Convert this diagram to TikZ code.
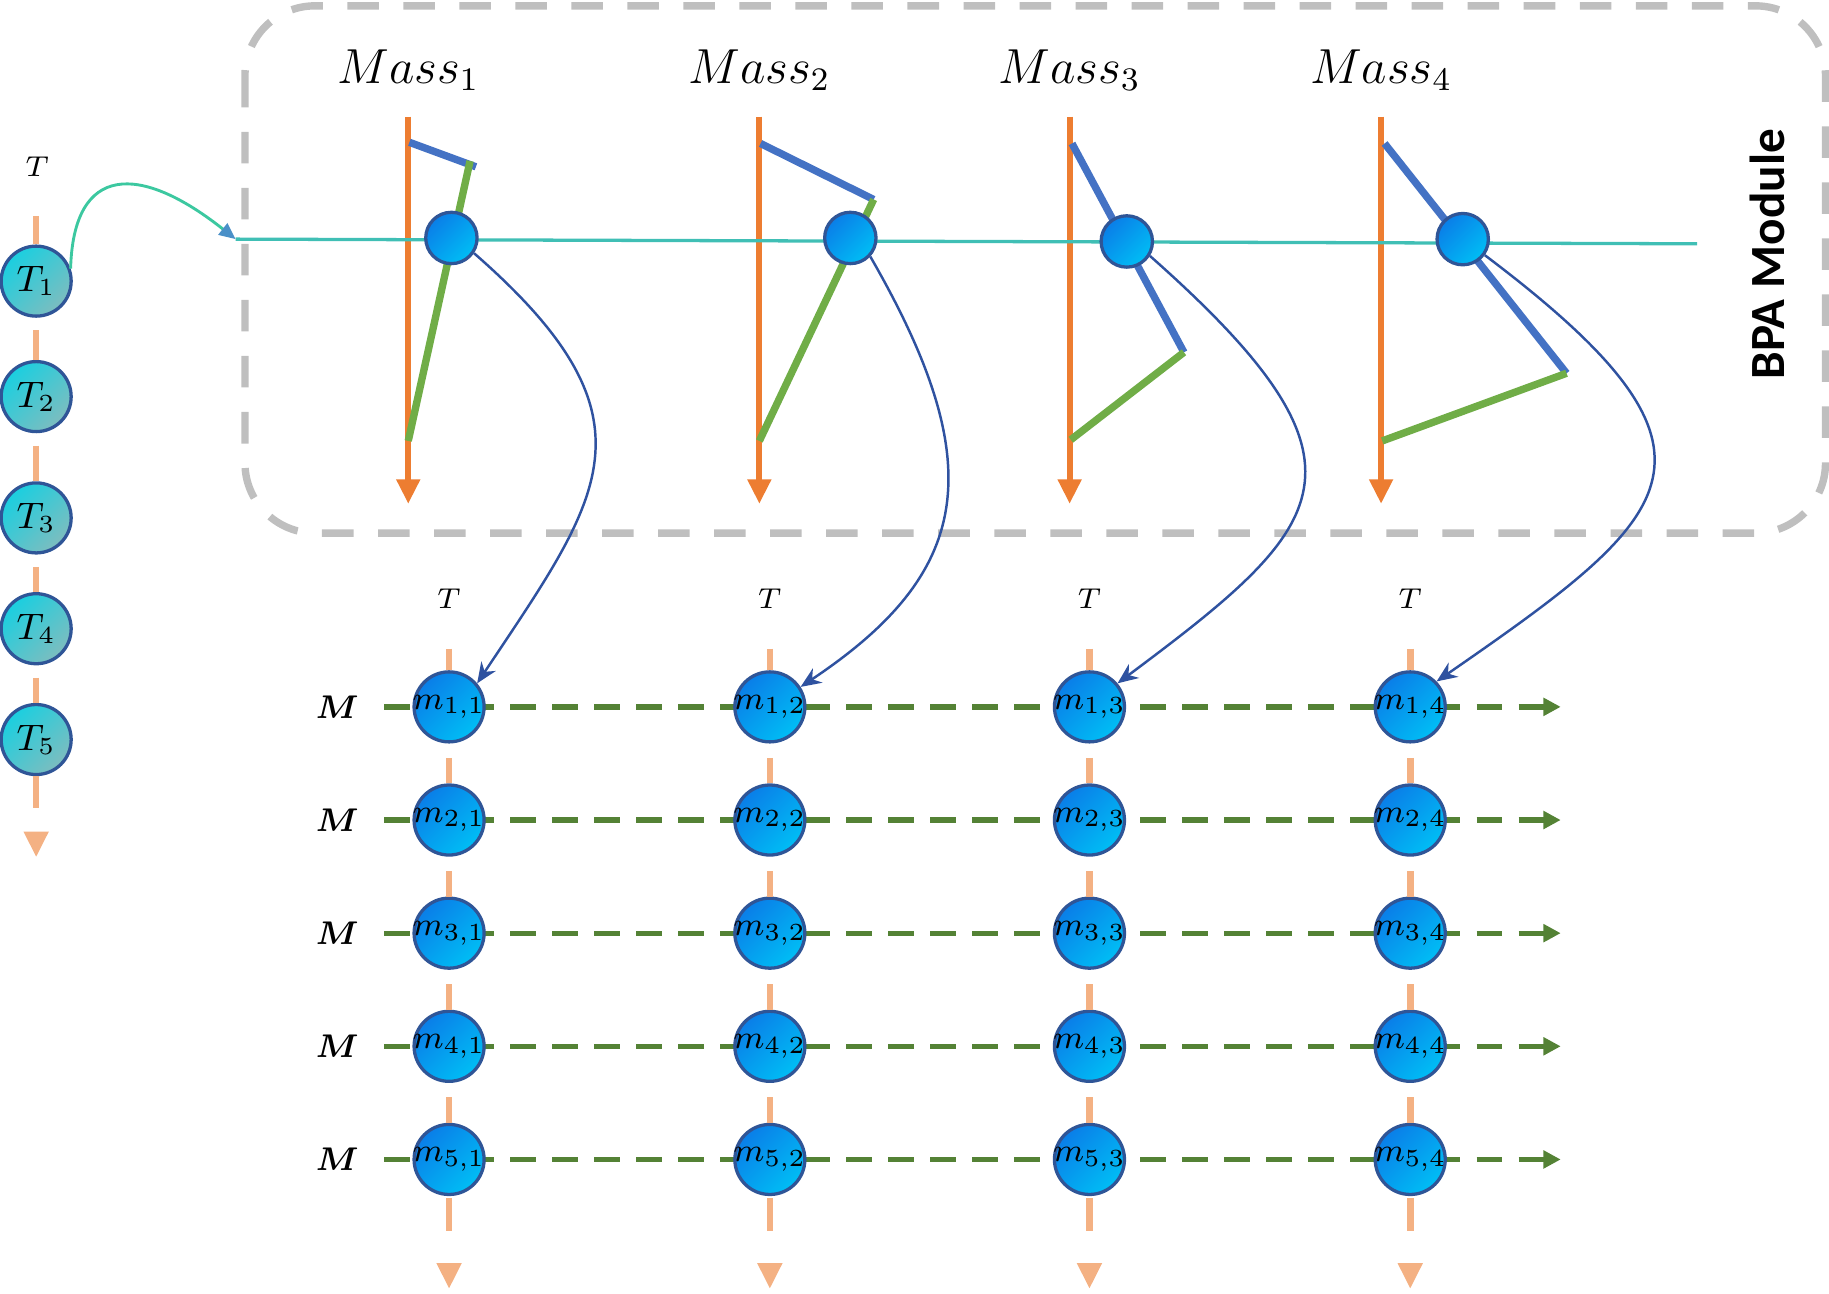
\documentclass[tikz,border=0pt]{standalone}
\usepackage{amsmath}
\usepackage{bm}
\usepackage{fontspec}
\newfontfamily\bpafont{Carlito}
\usepackage{tikz}
\usetikzlibrary{arrows.meta}
\usetikzlibrary{positioning}

\definecolor{massorange}{HTML}{ED7D31}
\definecolor{tlorange}{HTML}{F4B183}
\definecolor{bpablue}{HTML}{4472C4}
\definecolor{bpagreen}{HTML}{70AD47}
\definecolor{gridgreen}{HTML}{548235}
\definecolor{boxgray}{HTML}{BFBFBF}
\definecolor{curveblue}{HTML}{2F52A0}
\definecolor{nodeedge}{HTML}{2F5597}
\definecolor{mtop}{HTML}{0A7EE8}
\definecolor{mbot}{HTML}{00BEF5}
\definecolor{ttop}{HTML}{1ACFE0}
\definecolor{tbot}{HTML}{7DBDBF}
\definecolor{linkteal}{HTML}{40BFB5}
\definecolor{arcteal}{HTML}{3CC8A0}
\definecolor{arctip}{HTML}{4A90C8}

\begin{document}
\begin{tikzpicture}[x=0.01cm, y=-0.01cm]
            \tikzset{every node/.style={inner sep=0pt},
                    mnode/.style={circle, draw=nodeedge, line width=0.8pt, minimum size=0.6cm,
                                  inner sep=-3pt, top color=mtop, bottom color=mbot, shading angle=45,
                                  font=\fontsize{8.5}{10}\selectfont},
                    tnode/.style={circle, draw=nodeedge, line width=0.8pt, minimum size=0.6cm,
                                  inner sep=-3pt, top color=ttop, bottom color=tbot, shading angle=45,
                                  font=\fontsize{9}{10}\selectfont},
                    pnode/.style={circle, draw=nodeedge, line width=0.8pt, minimum size=0.44cm,
                                  top color=mtop, bottom color=mbot, shading angle=45},
                    hlabel/.style={font=\fontsize{7.5}{9}\selectfont},
                    rowlabel/.style={font=\fontsize{8}{9}\selectfont},
                    masslabel/.style={font=\fontsize{12}{14}\selectfont},
                    tline/.style={draw=tlorange, line width=1.6pt},
                    tend/.style={tline, -{Triangle[length=6.3pt,width=5.7pt]}},
                    mline/.style={draw=gridgreen, line width=1.3pt, dash pattern=on 2.2mm off 1.4mm,
                                  -{Triangle[length=4.2pt,width=4.2pt]}},
                    massarrow/.style={draw=massorange, line width=1.5pt,
                                      -{Triangle[length=6pt,width=5.5pt]}},
                    bpaline/.style={line width=1.8pt},
                    mcurve/.style={draw=curveblue, line width=0.6pt,
                                   -{Stealth[length=5pt,width=4.2pt]}}}
            \useasboundingbox (0,0) rectangle (1568,1108.5);
            % BPA module frame
            \draw[boxgray, line width=1.8pt, dash pattern=on 2.7mm off 2.1mm, rounded corners=6mm]
                (210,5) rectangle (1565,457);
            \node[rotate=90, font=\fontsize{12}{14}\selectfont\bpafont\bfseries] (bpa) at (1515,218) {BPA Module};
            % mass axes
            \foreach \i/\x in {1/350,2/651,3/917,4/1184} {
                \node[masslabel] (mass\i) at (\x,60) {$Mass_\i$};
                \draw[massarrow] (\x,100) -- (\x,432);
            }
            \draw[bpablue, bpaline] (351,122) -- (408,143);
            \draw[bpagreen, bpaline] (403,138) -- (350,378);
            \draw[bpablue, bpaline] (652,123) -- (749,171);
            \draw[bpagreen, bpaline] (749,171) -- (651,378);
            \draw[bpablue, bpaline] (919,123) -- (1015,302);
            \draw[bpagreen, bpaline] (1015,302) -- (918,377);
            \draw[bpablue, bpaline] (1187,123) -- (1343,320);
            \draw[bpagreen, bpaline] (1343,320) -- (1185,378);
            \coordinate (bpain) at (202,205);
            \coordinate (bpaout) at (1455,209);
            \draw[linkteal, line width=0.8pt] (bpain) -- (bpaout);
            \node[pnode] (p1) at (387,204) {};
            \node[pnode] (p2) at (729,204) {};
            \node[pnode] (p3) at (966,207) {};
            \node[pnode] (p4) at (1254,205) {};
            % left time column
            \node[hlabel] (lT) at (32,143) {$T$};
            \coordinate (ltop) at (31,185);
            \coordinate (lbot) at (31,735);
            \foreach \i/\y in {1/241,2/340,3/444,4/539,5/634}
                \node[tnode] (t\i) at (31,\y) {$T_\i$};
            \draw[tline] (ltop) -- (t1);
            \foreach \i/\k in {1/2,2/3,3/4,4/5}
                \draw[tline, shorten <=3pt] (t\i) -- (t\k);
            \draw[tend, dash pattern=on 2.7mm off 3mm] (t5) -- (lbot);
            \draw[arcteal, line width=0.7pt, -{Triangle[length=4pt,width=3.5pt,color=arctip]}]
                (t1.20) .. controls (63,140) and (120,140) .. (bpain);
            % mass grid
            \foreach \i/\y in {1/606,2/703,3/800,4/897,5/994} {
                \node[rowlabel] (lM\i) at (289,\y) {$\bm{M}$};
                \coordinate (e\i) at (1338,\y);
                \draw[mline, shorten <=6pt] (lM\i) -- (e\i);
            }
            \foreach \j/\x in {1/385,2/660,3/934,4/1209} {
                \node[hlabel] (hT\j) at (\x,513) {$T$};
                \coordinate (ct\j) at (\x,556);
                \coordinate (cb\j) at (\x,1105);
                \foreach \i/\y in {1/606,2/703,3/800,4/897,5/994}
                    \node[mnode] (m\i\j) at (\x,\y) {$m_{\i,\j}$};
                \draw[tline] (ct\j) -- (m1\j);
                \foreach \i/\k in {1/2,2/3,3/4,4/5}
                    \draw[tline, shorten <=3.5pt] (m\i\j) -- (m\k\j);
                \draw[tend, dash pattern=on 2.8mm off 5mm, shorten <=0.5pt] (m5\j) -- (cb\j);
            }
            % mass to grid
            \draw[mcurve] (p1.-34) .. controls (570,360) and (516,425) .. (m11.40);
            \draw[mcurve] (p2.-43) .. controls (850,400) and (833,491) .. (m12.33);
            \draw[mcurve] (p3.-32) .. controls (1190,400) and (1140,450) .. (m13.40);
            \draw[mcurve] (p4.-36) .. controls (1500,390) and (1440,440) .. (m14.44);
        \end{tikzpicture}
\end{document}
